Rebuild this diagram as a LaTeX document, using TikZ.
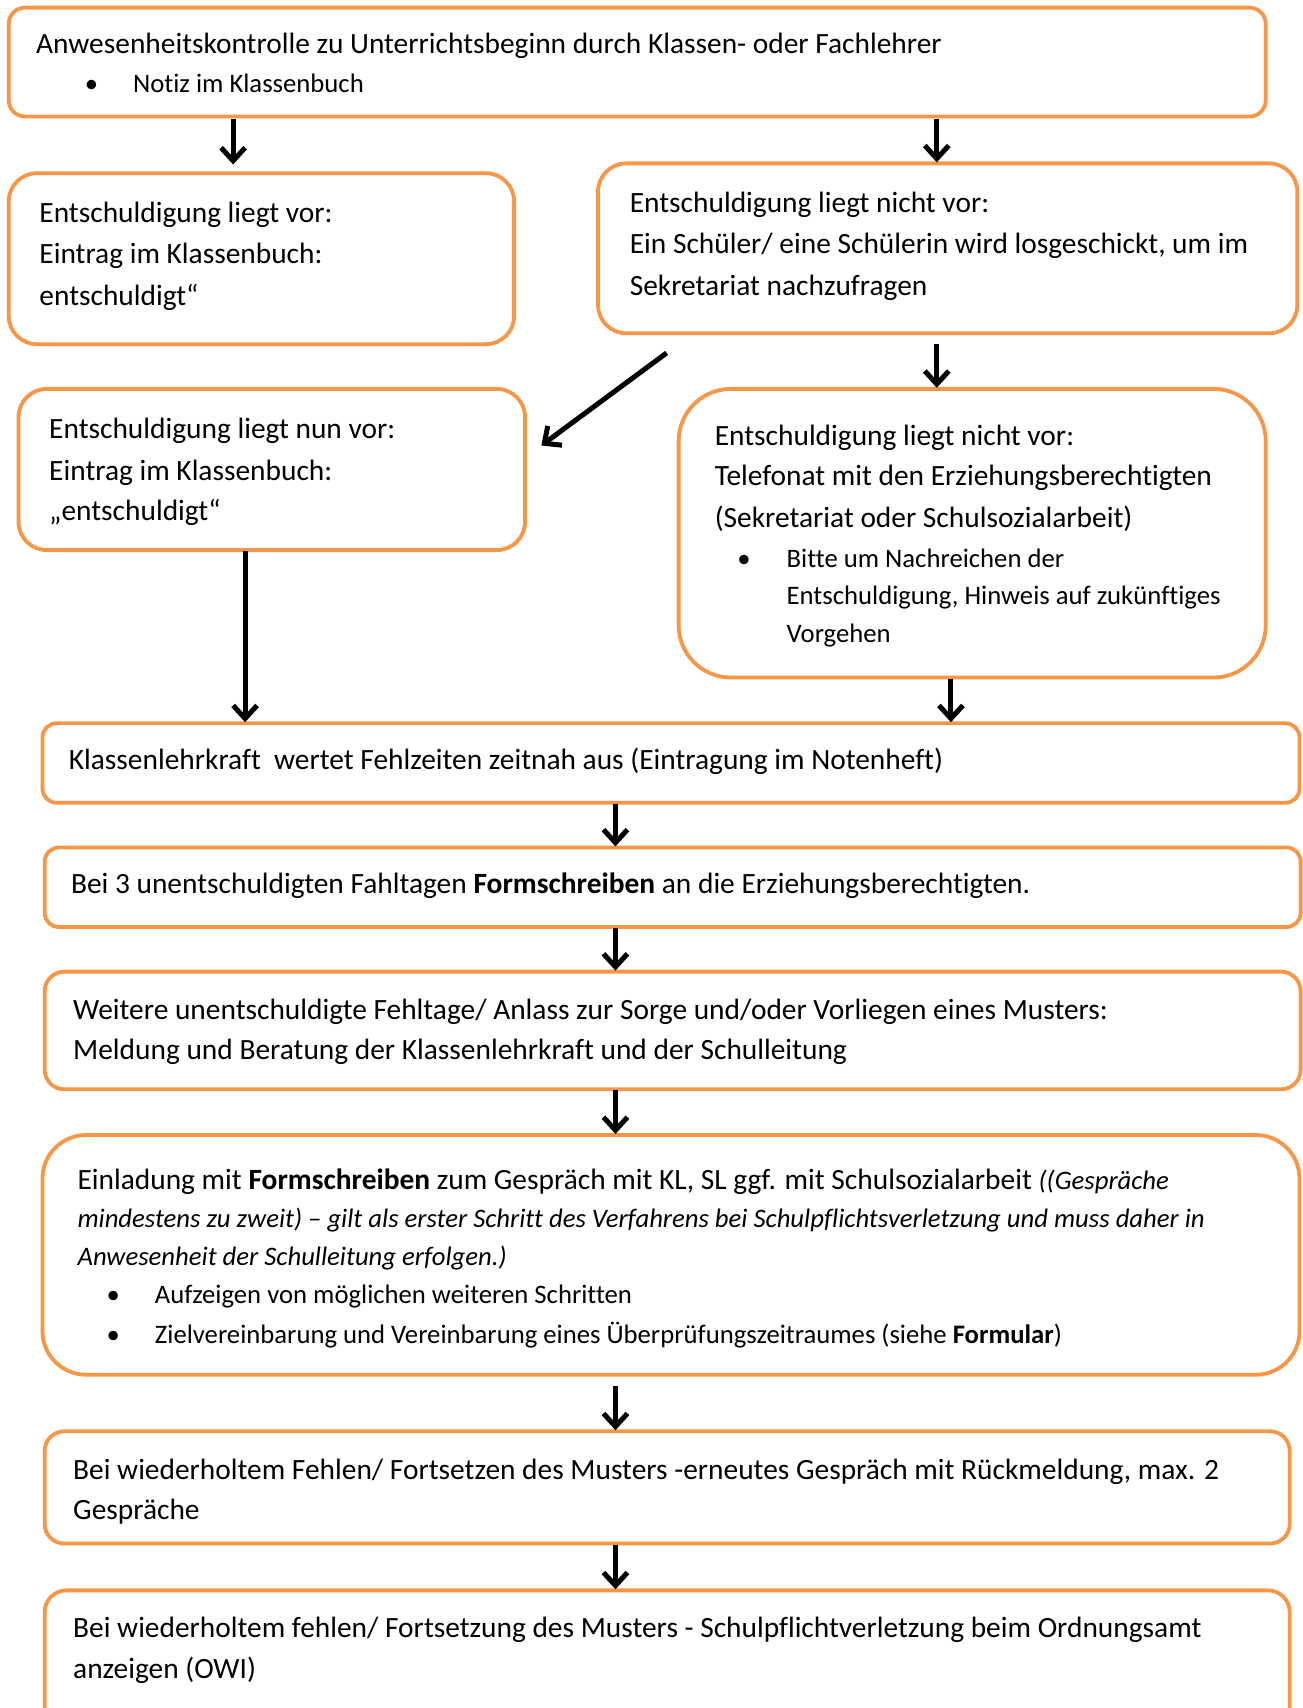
\documentclass[tikz,border=0pt]{standalone}
\usepackage{fontspec}
\setmainfont{Carlito}[Ligatures=CommonOff]
\usetikzlibrary{arrows.meta}
\definecolor{boxor}{HTML}{F79646}
\begin{document}
\begin{tikzpicture}[x=1pt,y=-1pt,
  box/.style={draw=boxor, line width=3.5pt, rectangle, anchor=north west, inner sep=0pt, outer sep=0pt},
  big/.style={font=\fontsize{27}{38}\selectfont, anchor=base west, inner sep=0pt},
  sm/.style={font=\fontsize{24.5}{34.5}\selectfont, anchor=base west, inner sep=0pt},
  bul/.style={font=\fontsize{24.5}{34.5}\selectfont, anchor=base, inner sep=0pt},
  arr/.style={draw=black, line width=4.6pt, -{Straight Barb[length=12pt,width=22pt]}}]
\clip (0,0) rectangle (1196,1568);
\fill[white] (0,0) rectangle (1196,1568);

% boxes
\node[box, minimum width=1154pt, minimum height=100pt, rounded corners=15pt] (A) at (8,7) {};
\node[box, minimum width=464pt, minimum height=157pt, rounded corners=26pt] (B) at (8,159) {};
\node[box, minimum width=642pt, minimum height=156pt, rounded corners=26pt] (C) at (549,150) {};
\node[box, minimum width=465pt, minimum height=148pt, rounded corners=26pt] (D) at (17,357) {};
\node[box, minimum width=539pt, minimum height=265pt, rounded corners=48pt] (E) at (623,357) {};
\node[box, minimum width=1154pt, minimum height=73pt, rounded corners=13pt] (G) at (39,664) {};
\node[box, minimum width=1153pt, minimum height=73pt, rounded corners=13pt] (H) at (41,778) {};
\node[box, minimum width=1153pt, minimum height=108pt, rounded corners=18pt] (I) at (41,892) {};
\node[box, minimum width=1154pt, minimum height=220pt, rounded corners=40pt] (J) at (39,1042) {};
\node[box, minimum width=1143pt, minimum height=103pt, rounded corners=18pt] (K) at (41,1314) {};
\node[box, minimum width=1143pt, minimum height=160pt, rounded corners=20pt] (L) at (41,1460) {};

% texts
\node[big] (A1) at (33,49) {Anwesenheitskontrolle zu Unterrichtsbeginn durch Klassen- oder Fachlehrer};
\node[bul] (Ab) at (84,85) {•};
\node[sm] (A2) at (122,85) {Notiz im Klassenbuch};

\node[big] (B1) at (36,204) {Entschuldigung liegt vor:};
\node[big] (B2) at (36,242) {Eintrag im Klassenbuch:};
\node[big] (B3) at (36,280) {entschuldigt“};

\node[big] (C1) at (578,195) {Entschuldigung liegt nicht vor:};
\node[big] (C2) at (578,233) {Ein Schüler/ eine Schülerin wird losgeschickt, um im};
\node[big] (C3) at (578,271) {Sekretariat nachzufragen};

\node[big] (D1) at (45,403) {Entschuldigung liegt nun vor:};
\node[big] (D2) at (45,441) {Eintrag im Klassenbuch:};
\node[big] (D3) at (45,478) {„entschuldigt“};

\node[big] (E1) at (656,409) {Entschuldigung liegt nicht vor:};
\node[big] (E2) at (656,446) {Telefonat mit den Erziehungsberechtigten};
\node[big] (E3) at (656,484) {(Sekretariat oder Schulsozialarbeit)};
\node[bul] (Eb) at (683,521) {•};
\node[sm] (E4) at (722,521) {Bitte um Nachreichen der};
\node[sm] (E5) at (722,555) {Entschuldigung, Hinweis auf zukünftiges};
\node[sm] (E6) at (722,590) {Vorgehen};

\node[big] (G1) at (63,706) {Klassenlehrkraft\ \ wertet Fehlzeiten zeitnah aus (Eintragung im Notenheft)};

\node[big] (H1) at (65,820) {Bei 3 unentschuldigten Fahltagen \textbf{Formschreiben} an die Erziehungsberechtigten.};

\node[big] (I1) at (67,936) {Weitere unentschuldigte Fehltage/ Anlass zur Sorge und/oder Vorliegen eines Musters:};
\node[big] (I2) at (67,973) {Meldung und Beratung der Klassenlehrkraft und der Schulleitung};

\node[big] (J1) at (71,1092) {Einladung mit \textbf{Formschreiben} zum Gespräch mit KL, SL ggf. mit Schulsozialarbeit {\fontsize{24.5}{34.5}\selectfont\itshape ((Gespräche}};
\node[sm, font=\fontsize{24.5}{34.5}\selectfont\itshape] (J2) at (71,1127) {mindestens zu zweit) – gilt als erster Schritt des Verfahrens bei Schulpflichtsverletzung und muss daher in};
\node[sm, font=\fontsize{24.5}{34.5}\selectfont\itshape] (J3) at (71,1162) {Anwesenheit der Schulleitung erfolgen.)};
\node[bul] (Jb1) at (104,1197) {•};
\node[sm] (J4) at (142,1197) {Aufzeigen von möglichen weiteren Schritten};
\node[bul] (Jb2) at (104,1233) {•};
\node[sm] (J5) at (142,1233) {Zielvereinbarung und Vereinbarung eines Überprüfungszeitraumes (siehe \textbf{Formular})};

\node[big] (K1) at (67,1358) {Bei wiederholtem Fehlen/ Fortsetzen des Musters -erneutes Gespräch mit Rückmeldung, max. 2};
\node[big] (K2) at (67,1395) {Gespräche};

\node[big] (L1) at (67,1503) {Bei wiederholtem fehlen/ Fortsetzung des Musters - Schulpflichtverletzung beim Ordnungsamt};
\node[big] (L2) at (67,1541) {anzeigen (OWI)};

% arrows
\draw[arr] ([xshift=206pt,yshift=-2pt]A.south west) -- ([xshift=206pt,yshift=8pt]B.north west);
\draw[arr] ([xshift=852pt,yshift=-2pt]A.south west) -- ([xshift=311pt,yshift=1pt]C.north west);
\draw[arr] ([xshift=63pt,yshift=-18pt]C.south west) -- ([xshift=15pt,yshift=22pt]D.east);
\draw[arr] ([xshift=311pt,yshift=-10pt]C.south west) -- ([xshift=237pt,yshift=1pt]E.north west);
\draw[arr] ([xshift=208pt,yshift=-1pt]D.south west) -- ([xshift=186pt,yshift=1pt]G.north west);
\draw[arr] ([xshift=250pt,yshift=-1pt]E.south west) -- ([xshift=834pt,yshift=1pt]G.north west);
\draw[arr] ([xshift=526pt,yshift=-1pt]G.south west) -- ([xshift=524pt,yshift=1pt]H.north west);
\draw[arr] ([xshift=524pt,yshift=-1pt]H.south west) -- ([xshift=524pt,yshift=1pt]I.north west);
\draw[arr] ([xshift=524pt,yshift=-1pt]I.south west) -- ([xshift=526pt,yshift=1pt]J.north west);
\draw[arr] ([xshift=526pt,yshift=-10pt]J.south west) -- ([xshift=524pt,yshift=1pt]K.north west);
\draw[arr] ([xshift=524pt,yshift=-1pt]K.south west) -- ([xshift=524pt,yshift=1pt]L.north west);
\end{tikzpicture}
\end{document}
